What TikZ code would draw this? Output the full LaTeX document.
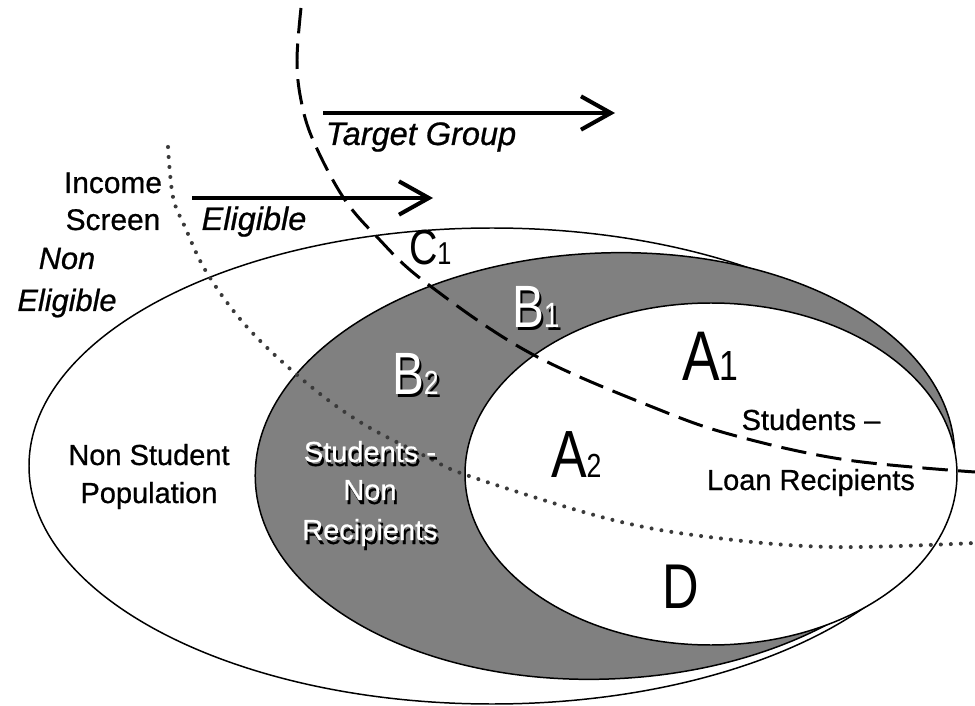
\documentclass[tikz,border=0pt]{standalone}
\usepackage{fontspec}
\usepackage{graphicx}
\setmainfont{Liberation Sans}
% heavier setting of the same face for the annotation text
\newfontfamily\annofont{Liberation Sans}[FakeBold=0.7]
\usetikzlibrary{arrows.meta}

\definecolor{studentgray}{HTML}{808080}
\definecolor{screendot}{HTML}{3A3A3A}

% font size shortcut
\newcommand{\fsz}[1]{\fontsize{#1}{#1}\selectfont}
% zone label: big letter with a smaller digit on the same baseline
\newcommand{\zonelab}[4]{\scalebox{0.8}[1]{\fsz{#1}#3\fsz{#2}#4}}

\begin{document}
\begin{tikzpicture}[x=0.02cm,y=-0.02cm,
  every node/.style={inner sep=0pt,outer sep=0pt},
  region/.style={draw=black,line width=0.85pt},
  targetline/.style={line width=1.7pt,dash pattern=on 14.5pt off 5.8pt},
  screenline/.style={draw=screendot,line width=2.3pt,line cap=round,dash pattern=on 0pt off 5.7pt},
  bigarrow/.style={line width=2.3pt,-{Straight Barb[length=17pt,width=19pt,line width=2.3pt]}},
  txt/.style={anchor=base,font=\annofont\fsz{16.5}},
  itxt/.style={anchor=base,font=\annofont\fsz{18.5}\itshape},
  embossed/.style={anchor=base,font=\annofont\fsz{16.5},text=white},
  embshadow/.style={anchor=base,font=\annofont\fsz{16.5},text=black},
  zone/.style={anchor=base west}
]
\useasboundingbox (0,0) rectangle (975,706);
\fill[white] (0,0) rectangle (975,706);

% population, students, loan recipients
\draw[region,fill=white] (492,466) ellipse [x radius=463, y radius=238];
\draw[region,fill=studentgray,rotate around={2.5:(605,466)}] (605,466) ellipse [x radius=350, y radius=213];
\draw[region,fill=white] (711,474) ellipse [x radius=246, y radius=171];

% income screen (dotted) and target group boundary (dashed)
\draw[screenline] plot[smooth,tension=0.6] coordinates {(168,147) (173,197) (185,227) (207,273) (247,327) (303,380) (360,422) (427,457) (472,477) (613,520) (717,538) (833,547) (975,543)};
\draw[targetline] plot[smooth,tension=0.6] coordinates {(301,8) (297,60) (301,100) (313,140) (343,197) (377,237) (425,282) (530,353) (660,410) (740,437) (847,460) (975,472)};

% direction arrows
\coordinate (tg0) at (323,113);
\coordinate (tg1) at (615,113);
\coordinate (el0) at (192,198);
\coordinate (el1) at (433,198);
\draw[bigarrow] (tg0) -- (tg1);
\draw[bigarrow] (el0) -- (el1);

% side labels
\node[txt,font=\annofont\fsz{17}] (income) at (113,193) {Income};
\node[txt,font=\annofont\fsz{17}] (screen) at (113,230) {Screen};
\node[itxt,font=\annofont\fsz{17.5}\itshape] (nonel1) at (67,269) {Non};
\node[itxt,font=\annofont\fsz{17.5}\itshape] (nonel2) at (67,311) {Eligible};
\node[itxt] (elig) at (254,230) {Eligible};
\node[itxt] (target) at (421,145) {Target Group};

\node[txt] (nsp1) at (149,465) {Non Student};
\node[txt] (nsp2) at (149,503) {Population};

% embossed text in the student ring
\node[embshadow] (snr1s) at (372,466) {Students -};
\node[embshadow] (snr2s) at (372,504) {Non};
\node[embshadow] (snr3s) at (372,544) {Recipients};
\node[embossed] (snr1) at (370,462) {Students -};
\node[embossed] (snr2) at (370,500) {Non};
\node[embossed] (snr3) at (370,540) {Recipients};

\node[txt] (lr1) at (811,430) {Students –};
\node[txt] (lr2) at (811,490) {Loan Recipients};

% zone labels
\node[zone] (c1) at (409,265) {\zonelab{28}{18}{C}{1}};
\node[zone,text=black] (b1s) at (514.5,330.5) {\zonelab{34}{20}{B}{1}};
\node[zone,text=white] (b1) at (512,328) {\zonelab{34}{20}{B}{1}};
\node[zone,text=black] (b2s) at (394.5,397.5) {\zonelab{34}{19}{B}{2}};
\node[zone,text=white] (b2) at (392,395) {\zonelab{34}{19}{B}{2}};
\node[zone] (a1) at (682,380) {\zonelab{40}{24}{A}{1}};
\node[zone] (a2) at (551,478) {\zonelab{38}{19}{A}{2}};
\node[zone] (d) at (662,608) {\zonelab{36}{20}{D}{}};
\end{tikzpicture}
\end{document}
